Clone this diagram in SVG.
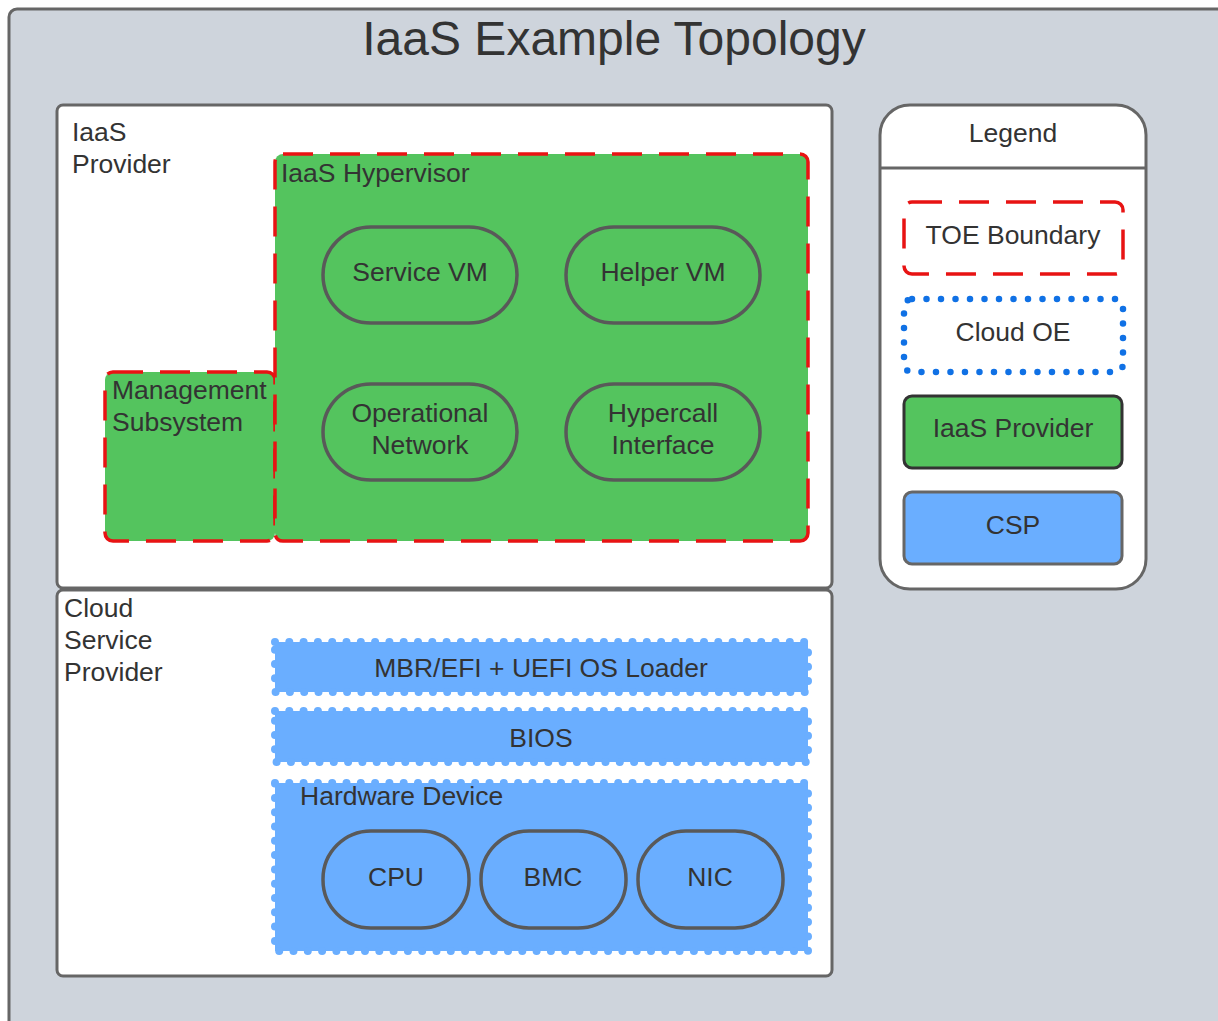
<svg xmlns="http://www.w3.org/2000/svg" width="1218" height="1021" viewBox="0 0 1218 1021">
<style>
text{font-family:"Liberation Sans",Arial,sans-serif;font-size:26.5px;fill:#333333}
.c{text-anchor:middle}
.box{fill:#ffffff;stroke:#666666;stroke-width:3}
.toe{fill:#54C45E;stroke:#E81313;stroke-width:3.5;stroke-dasharray:30 17}
.pill{fill:none;stroke:#595959;stroke-width:3.5}
.csp{fill:#6AAEFF}
.scal{fill:none;stroke:#6AAEFF;stroke-width:8;stroke-dasharray:0 14.3;stroke-linecap:round}
</style>
<g id="frame">
<rect x="9" y="9" width="1220" height="1030" rx="8" fill="#CED4DC" stroke="#666666" stroke-width="3"/>
<text class="c" x="614" y="55" style="font-size:48px">IaaS Example Topology</text>
</g>
<g id="iaas-provider">
<rect class="box" x="57" y="105" width="775" height="483" rx="6"/>
<text x="72" y="141">IaaS</text>
<text x="72" y="173">Provider</text>
</g>
<g id="management-subsystem">
<rect class="toe" x="105" y="372" width="170" height="169" rx="8"/>
<text x="112" y="399">Management</text>
<text x="112" y="431">Subsystem</text>
</g>
<g id="iaas-hypervisor">
<rect class="toe" x="275" y="154" width="533" height="387" rx="8"/>
<text x="281" y="182">IaaS Hypervisor</text>
</g>
<g id="service-vm">
<rect class="pill" x="323" y="227" width="194" height="96" rx="48"/>
<text class="c" x="420" y="281">Service VM</text>
</g>
<g id="helper-vm">
<rect class="pill" x="566" y="227" width="194" height="96" rx="48"/>
<text class="c" x="663" y="281">Helper VM</text>
</g>
<g id="operational-network">
<rect class="pill" x="323" y="384" width="194" height="96" rx="48"/>
<text class="c" x="420" y="422">Operational</text>
<text class="c" x="420" y="454">Network</text>
</g>
<g id="hypercall-interface">
<rect class="pill" x="566" y="384" width="194" height="96" rx="48"/>
<text class="c" x="663" y="422">Hypercall</text>
<text class="c" x="663" y="454">Interface</text>
</g>
<g id="cloud-service-provider">
<rect class="box" x="57" y="590" width="775" height="386" rx="6"/>
<text x="64" y="617">Cloud</text>
<text x="64" y="649">Service</text>
<text x="64" y="681">Provider</text>
</g>
<g id="mbr-efi">
<rect class="csp" x="275" y="642" width="533" height="50"/>
<rect class="scal" x="275" y="642" width="533" height="50"/>
<text class="c" x="541" y="677">MBR/EFI + UEFI OS Loader</text>
</g>
<g id="bios">
<rect class="csp" x="275" y="711" width="533" height="51"/>
<rect class="scal" x="275" y="711" width="533" height="51"/>
<text class="c" x="541" y="747">BIOS</text>
</g>
<g id="hardware-device">
<rect class="csp" x="275" y="783" width="533" height="168"/>
<rect class="scal" x="275" y="783" width="533" height="168"/>
<text x="300" y="805">Hardware Device</text>
</g>
<g id="cpu">
<rect class="pill" x="323" y="831" width="146" height="97" rx="48"/>
<text class="c" x="396" y="886">CPU</text>
</g>
<g id="bmc">
<rect class="pill" x="481" y="831" width="145" height="97" rx="48"/>
<text class="c" x="553" y="886">BMC</text>
</g>
<g id="nic">
<rect class="pill" x="638" y="831" width="145" height="97" rx="48"/>
<text class="c" x="710" y="886">NIC</text>
</g>
<g id="legend">
<rect class="box" x="880" y="105" width="266" height="484" rx="30"/>
<line x1="880" y1="168" x2="1146" y2="168" stroke="#666666" stroke-width="3"/>
<text class="c" x="1013" y="142">Legend</text>
</g>
<g id="legend-toe">
<rect x="904" y="202" width="219" height="72" rx="8" fill="#ffffff" stroke="#E81313" stroke-width="3.5" stroke-dasharray="30 17"/>
<text class="c" x="1013" y="244">TOE Boundary</text>
</g>
<g id="legend-cloud-oe">
<rect x="904" y="299" width="219" height="73" rx="8" fill="#ffffff" stroke="#1071E5" stroke-width="6.5" stroke-dasharray="0 14.5" stroke-linecap="round"/>
<text class="c" x="1013" y="341">Cloud OE</text>
</g>
<g id="legend-iaas">
<rect x="904" y="396" width="218" height="72" rx="8" fill="#54C45E" stroke="#333333" stroke-width="3"/>
<text class="c" x="1013" y="437">IaaS Provider</text>
</g>
<g id="legend-csp">
<rect x="904" y="492" width="218" height="72" rx="8" fill="#6AAEFF" stroke="#666666" stroke-width="3"/>
<text class="c" x="1013" y="534">CSP</text>
</g>
<g id="connectors"></g>
</svg>
